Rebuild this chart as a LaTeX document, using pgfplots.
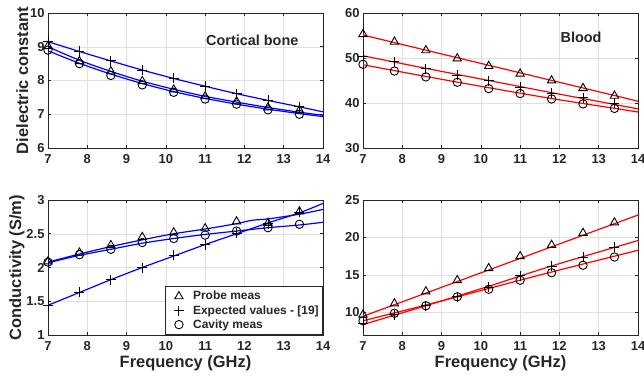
\documentclass[border=0pt]{standalone}
\usepackage{pgfplots}
\pgfplotsset{compat=1.18}
\usepgfplotslibrary{groupplots}
\usetikzlibrary{calc}
\usepackage{fontspec}
\setmainfont{Liberation Sans}
\definecolor{tickgray}{gray}{0.15}
\definecolor{gridgray}{gray}{0.88}
\begin{document}
\begin{tikzpicture}
\pgfplotsset{
  every axis/.append style={
    scale only axis, width=275bp, height=135bp,
    xmin=7, xmax=14, xtick={7,...,14},
    grid=major, major grid style={gridgray, line width=0.5pt},
    axis line style={tickgray, line width=0.6pt},
    tick style={tickgray, line width=0.6pt}, major tick length=3bp,
    tick label style={font=\fontsize{13}{13}\selectfont\bfseries, text=tickgray},
    xticklabel shift=3bp,
    /pgf/number format/assume math mode=true,
    label style={font=\fontsize{16.5}{16.5}\selectfont\bfseries, text=tickgray},
    ylabel shift=-5bp, xlabel shift=-2bp,
  },
  fitb/.style={blue, line width=1.2pt, smooth, no marks, forget plot},
  fitr/.style={red, line width=1.2pt, smooth, no marks, forget plot},
  mtri/.style={only marks, black, mark=triangle, mark size=4.8bp, mark options={line width=0.9pt, fill=none}},
  mplus/.style={only marks, black, mark=+, mark size=5bp, mark options={line width=1pt}},
  mcirc/.style={only marks, black, mark=o, mark size=4.2bp, mark options={line width=0.9pt}},
}
\begin{groupplot}[group style={group size=2 by 2, horizontal sep=40bp, vertical sep=52bp, group name=G}]
% ---- Cortical bone, dielectric
\nextgroupplot[ymin=6, ymax=10, ytick={6,7,8,9,10}, ylabel={Dielectric constant}]
\addplot[fitb] coordinates {(7,9.15)(7.8,8.86)(8.6,8.58)(9.4,8.31)(10.2,8.06)(11,7.83)(11.8,7.61)(12.6,7.41)(13.4,7.22)(14,7.07)};
\addplot[fitb] coordinates {(7,9.0)(7.8,8.6)(8.6,8.27)(9.4,7.98)(10.2,7.74)(11,7.53)(11.8,7.36)(12.6,7.2)(13.4,7.06)(14,6.97)};
\addplot[fitb] coordinates {(7,8.88)(7.8,8.51)(8.6,8.19)(9.4,7.91)(10.2,7.67)(11,7.47)(11.8,7.3)(12.6,7.15)(13.4,7.02)(14,6.93)};
\addplot[mtri] coordinates {(7,9.02)(7.8,8.57)(8.6,8.27)(9.4,7.98)(10.2,7.73)(11,7.53)(11.8,7.38)(12.6,7.2)(13.4,7.12)};
\addplot[mplus] coordinates {(7,9.17)(7.8,8.87)(8.6,8.58)(9.4,8.3)(10.2,8.07)(11,7.83)(11.8,7.61)(12.6,7.41)(13.4,7.22)};
\addplot[mcirc] coordinates {(7,8.9)(7.8,8.5)(8.6,8.15)(9.4,7.87)(10.2,7.65)(11,7.45)(11.8,7.3)(12.6,7.13)(13.4,7.0)};
\node[font=\fontsize{14.5}{14.5}\selectfont\bfseries, text=tickgray] at (axis cs:12.2,9.2) {Cortical bone};
% ---- Blood, dielectric
\nextgroupplot[ymin=30, ymax=60, ytick={30,40,50,60}]
\addplot[fitr] coordinates {(7,55.1)(14,40.4)};
\addplot[fitr] coordinates {(7,50.5)(8.6,47.7)(10.2,45.0)(11.8,42.3)(14,38.7)};
\addplot[fitr] coordinates {(7,48.5)(8.6,45.9)(10.2,43.4)(11.8,41.0)(14,38.0)};
\addplot[mtri] coordinates {(7,55.3)(7.8,53.6)(8.6,51.7)(9.4,49.9)(10.2,48.2)(11,46.5)(11.8,45.0)(12.6,43.3)(13.4,41.6)};
\addplot[mplus] coordinates {(7,50.4)(7.8,49.2)(8.6,47.6)(9.4,46.2)(10.2,45.0)(11,43.5)(11.8,42.2)(12.6,41.2)(13.4,39.9)};
\addplot[mcirc] coordinates {(7,48.6)(7.8,47.1)(8.6,45.8)(9.4,44.6)(10.2,43.2)(11,42.1)(11.8,40.9)(12.6,39.8)(13.4,38.8)};
\node[font=\fontsize{14.5}{14.5}\selectfont\bfseries, text=tickgray] at (axis cs:12.55,54.7) {Blood};
% ---- Cortical bone, conductivity
\nextgroupplot[ymin=1, ymax=3, ytick={1,1.5,2,2.5,3}, ylabel={Conductivity (S/m)}, xlabel={Frequency (GHz)},
  legend style={at={(1,0)}, anchor=south east, draw=tickgray, line width=0.6pt, font=\fontsize{12}{15.5}\selectfont\bfseries, text=tickgray, inner xsep=2bp, inner ysep=3bp, cells={anchor=west}},
  legend image code/.code={\path[draw=none, fill=none] (0,0) -- (0.85cm,0); \draw[#1] plot coordinates {(0.42cm,0cm)};}]
\addplot[fitb] coordinates {(7,2.08)(7.8,2.2)(8.6,2.31)(9.4,2.41)(10.2,2.5)(11,2.57)(11.8,2.65)(12.2,2.7)(12.6,2.72)(13.4,2.79)(14,2.86)};
\addplot[fitb] coordinates {(7,1.44)(7.8,1.63)(8.6,1.82)(9.4,2.0)(10.2,2.17)(11,2.34)(11.8,2.5)(12.6,2.66)(13.4,2.81)(14,2.95)};
\addplot[fitb] coordinates {(7,2.07)(7.8,2.18)(8.6,2.27)(9.4,2.36)(10.2,2.43)(11,2.49)(11.8,2.54)(12.6,2.59)(13.4,2.63)(14,2.67)};
\addplot[mtri] coordinates {(7,2.09)(7.8,2.22)(8.6,2.33)(9.4,2.45)(10.2,2.52)(11,2.58)(11.8,2.68)(12.6,2.66)(13.4,2.83)};
\addlegendentry{Probe meas}
\addplot[mplus] coordinates {(7,1.44)(7.8,1.63)(8.6,1.82)(9.4,2.0)(10.2,2.18)(11,2.34)(11.8,2.51)(12.6,2.65)(13.4,2.82)};
\addlegendentry{Expected values - [19]}
\addplot[mcirc] coordinates {(7,2.08)(7.8,2.19)(8.6,2.27)(9.4,2.37)(10.2,2.43)(11,2.48)(11.8,2.54)(12.6,2.59)(13.4,2.64)};
\addlegendentry{Cavity meas}
% ---- Blood, conductivity
\nextgroupplot[ymin=7, ymax=25, ytick={10,15,20,25}, xlabel={Frequency (GHz)}]
\addplot[fitr] coordinates {(7,9.5)(14,23.0)};
\addplot[fitr] coordinates {(7,8.4)(8.6,10.9)(10.2,13.5)(11.8,16.2)(14,19.6)};
\addplot[fitr] coordinates {(7,8.9)(8.6,11.0)(10.2,13.2)(11.8,15.4)(14,18.3)};
\addplot[mtri] coordinates {(7,9.7)(7.8,11.2)(8.6,12.8)(9.4,14.3)(10.2,15.9)(11,17.5)(11.8,19.0)(12.6,20.6)(13.4,22.0)};
\addplot[mplus] coordinates {(7,8.5)(7.8,9.7)(8.6,10.9)(9.4,12.1)(10.2,13.4)(11,14.9)(11.8,16.2)(12.6,17.4)(13.4,18.7)};
\addplot[mcirc] coordinates {(7,8.9)(7.8,9.9)(8.6,10.9)(9.4,12.1)(10.2,13.1)(11,14.3)(11.8,15.3)(12.6,16.3)(13.4,17.4)};
\end{groupplot}
\pgfresetboundingbox
\path[use as bounding box] ($(G c1r1.north west)+(-48bp,13bp)$) rectangle ($(G c2r2.south east)+(6bp,-45bp)$);
\end{tikzpicture}
\end{document}
